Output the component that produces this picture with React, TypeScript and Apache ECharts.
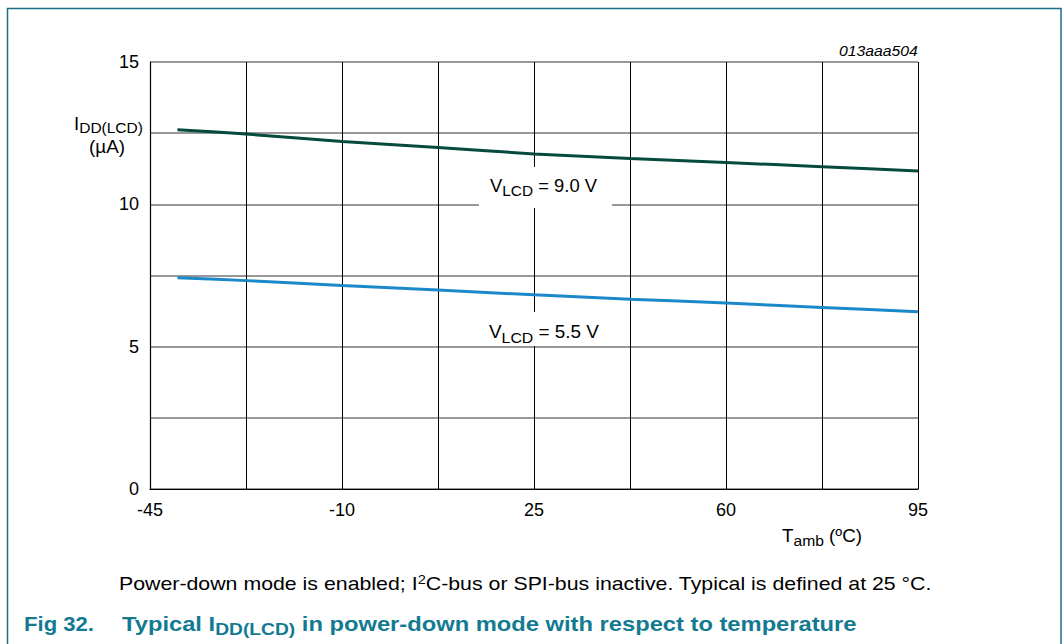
import React, { useEffect, useRef } from "react";
import * as echarts from "echarts";

// ---- axis definitions ----
const X_MIN = -45;
const X_MAX = 95;
const X_GRID_STEP = 17.5;
const X_LABEL_STEP = 35;
const Y_MIN = 0;
const Y_MAX = 15;
const Y_GRID_STEP = 2.5;
const Y_LABEL_STEP = 5;

// ---- data ----
const tempC = [-40, -27.5, -10, 7.5, 25, 42.5, 60, 77.5, 95];
const idd9V = [12.62, 12.47, 12.21, 12.0, 11.77, 11.61, 11.47, 11.32, 11.17];
const idd55V = [7.42, 7.32, 7.15, 6.99, 6.82, 6.67, 6.53, 6.38, 6.23];
const seriesNames = ["VLCD = 9.0 V", "VLCD = 5.5 V"];

const FONT = "'Liberation Sans', Arial, Helvetica, sans-serif";
const TEAL = "#137a92";

type Seg = { t: string; size: number; dy?: number; bold?: boolean; italic?: boolean };

function fontStr(s: Seg) {
  return `${s.italic ? "italic " : ""}${s.bold ? "bold " : ""}${s.size}px 'Liberation Sans', Arial, sans-serif`;
}

function textRun(
  ctx: CanvasRenderingContext2D,
  segs: Seg[],
  x: number,
  baseline: number,
  color: string,
  align: "left" | "center" | "right" = "left",
  targetWidth?: number
) {
  const widths = segs.map((s) => {
    ctx.font = fontStr(s);
    return ctx.measureText(s.t).width;
  });
  const natural = widths.reduce((a, b) => a + b, 0);
  const k = targetWidth ? targetWidth / natural : 1;
  const total = natural * k;
  let cx = align === "center" ? x - total / 2 : align === "right" ? x - total : x;
  const els: any[] = [];
  segs.forEach((s, i) => {
    const trimmed = s.t.replace(/^\s+/, "");
    const lead = s.t.slice(0, s.t.length - trimmed.length);
    ctx.font = fontStr(s);
    const leadW = lead ? ctx.measureText(lead).width * k : 0;
    els.push({
      type: "text",
      x: cx + leadW,
      y: baseline + (s.dy || 0) - 0.35 * s.size,
      scaleX: k,
      z: 20,
      silent: true,
      style: {
        text: trimmed,
        fontSize: s.size,
        fontFamily: FONT,
        fontWeight: s.bold ? "bold" : "normal",
        fontStyle: s.italic ? "italic" : "normal",
        fill: color,
        align: "left",
        verticalAlign: "middle",
        textAlign: "left",
        textVerticalAlign: "middle",
      },
    });
    cx += widths[i] * k;
  });
  return els;
}

export default function App() {
  const ref = useRef<HTMLDivElement>(null);

  useEffect(() => {
    document.body.style.margin = "0";
    document.body.style.background = "#ffffff";
    if (!ref.current) return;
    const chart = echarts.init(ref.current, undefined, { renderer: "svg" });
    const ctx = document.createElement("canvas").getContext("2d") as CanvasRenderingContext2D;

    const toX = (t: number) => t - X_MIN;
    const data9 = tempC.map((t, i) => [toX(t), idd9V[i]]);
    const data55 = tempC.map((t, i) => [toX(t), idd55V[i]]);

    const graphics: any[] = [
      // figure frame
      {
        type: "rect",
        z: 1,
        silent: true,
        shape: { x: 7.5, y: 8.5, width: 1053.5, height: 700 },
        style: { fill: "none", stroke: "#1a6e88", lineWidth: 1.5 },
      },
      // label boxes
      {
        type: "rect",
        z: 15,
        silent: true,
        shape: { x: 479, y: 167, width: 133, height: 41 },
        style: { fill: "#ffffff" },
      },
      {
        type: "rect",
        z: 15,
        silent: true,
        shape: { x: 484, y: 312, width: 126, height: 34 },
        style: { fill: "#ffffff" },
      },
      ...textRun(ctx, [{ t: "013aaa504", size: 15, italic: true }], 918, 56, "#000", "right", 79),
      ...textRun(
        ctx,
        [
          { t: "I", size: 18 },
          { t: "DD(LCD)", size: 15, dy: 3.5 },
        ],
        74,
        129.5,
        "#000",
        "left",
        69
      ),
      ...textRun(ctx, [{ t: "(µA)", size: 18 }], 107, 153, "#000", "center", 36),
      ...textRun(
        ctx,
        [
          { t: "T", size: 18 },
          { t: "amb", size: 15, dy: 3.5 },
          { t: " (ºC)", size: 18 },
        ],
        782,
        542,
        "#000",
        "left",
        80
      ),
      ...textRun(
        ctx,
        [
          { t: "V", size: 18.5 },
          { t: "LCD", size: 15.5, dy: 4 },
          { t: " = 9.0 V", size: 18.5 },
        ],
        490,
        192,
        "#000",
        "left",
        107
      ),
      ...textRun(
        ctx,
        [
          { t: "V", size: 18.5 },
          { t: "LCD", size: 15.5, dy: 4 },
          { t: " = 5.5 V", size: 18.5 },
        ],
        489,
        338.5,
        "#000",
        "left",
        110
      ),
      ...textRun(
        ctx,
        [
          { t: "Power-down mode is enabled; I", size: 19 },
          { t: "2", size: 13, dy: -7 },
          { t: "C-bus or SPI-bus inactive. Typical is defined at 25 °C.", size: 19 },
        ],
        119,
        590.5,
        "#000",
        "left",
        813
      ),
      ...textRun(ctx, [{ t: "Fig 32.", size: 21, bold: true }], 24, 631.5, TEAL, "left", 70),
      ...textRun(
        ctx,
        [
          { t: "Typical I", size: 21, bold: true },
          { t: "DD(LCD)", size: 17, bold: true, dy: 4 },
          { t: " in power-down mode with respect to temperature", size: 21, bold: true },
        ],
        122,
        631.5,
        TEAL,
        "left",
        735
      ),
    ];

    chart.setOption({
      animation: false,
      backgroundColor: "#ffffff",
      grid: { left: 150, top: 62, width: 768, height: 427, containLabel: false },
      xAxis: {
        type: "value",
        min: 0,
        max: X_MAX - X_MIN,
        interval: X_GRID_STEP,
        axisLine: { show: true, onZero: false, lineStyle: { color: "#000", width: 1.2 } },
        axisTick: { show: false },
        axisLabel: {
          show: true,
          margin: 12,
          fontSize: 18,
          fontFamily: FONT,
          color: "#000",
          showMinLabel: true,
          showMaxLabel: true,
          formatter: (v: number) => {
            const r = Math.abs(v % X_LABEL_STEP);
            return r < 1e-6 || Math.abs(r - X_LABEL_STEP) < 1e-6 ? String(Math.round(v + X_MIN)) : "";
          },
        },
        splitLine: { show: true, lineStyle: { color: "#000", width: 1 } },
      },
      yAxis: {
        type: "value",
        min: Y_MIN,
        max: Y_MAX,
        interval: Y_GRID_STEP,
        axisLine: { show: true, onZero: false, lineStyle: { color: "#000", width: 1.2 } },
        axisTick: { show: false },
        axisLabel: {
          show: true,
          margin: 11,
          fontSize: 18,
          fontFamily: FONT,
          color: "#000",
          formatter: (v: number) => (Math.abs(v % Y_LABEL_STEP) < 1e-6 ? String(v) : ""),
        },
        splitLine: { show: true, lineStyle: { color: "#767676", width: 1.5 } },
      },
      series: [
        {
          name: seriesNames[0],
          type: "line",
          data: data9,
          smooth: 0.3,
          showSymbol: false,
          symbol: "none",
          lineStyle: { color: "#064a3d", width: 3 },
          z: 5,
        },
        {
          name: seriesNames[1],
          type: "line",
          data: data55,
          smooth: 0.3,
          showSymbol: false,
          symbol: "none",
          lineStyle: { color: "#1b88c9", width: 3 },
          z: 5,
        },
      ],
      graphic: { elements: graphics },
    });

    return () => {
      chart.dispose();
    };
  }, []);

  return <div ref={ref} style={{ width: 1063, height: 644, background: "#fff" }} />;
}
